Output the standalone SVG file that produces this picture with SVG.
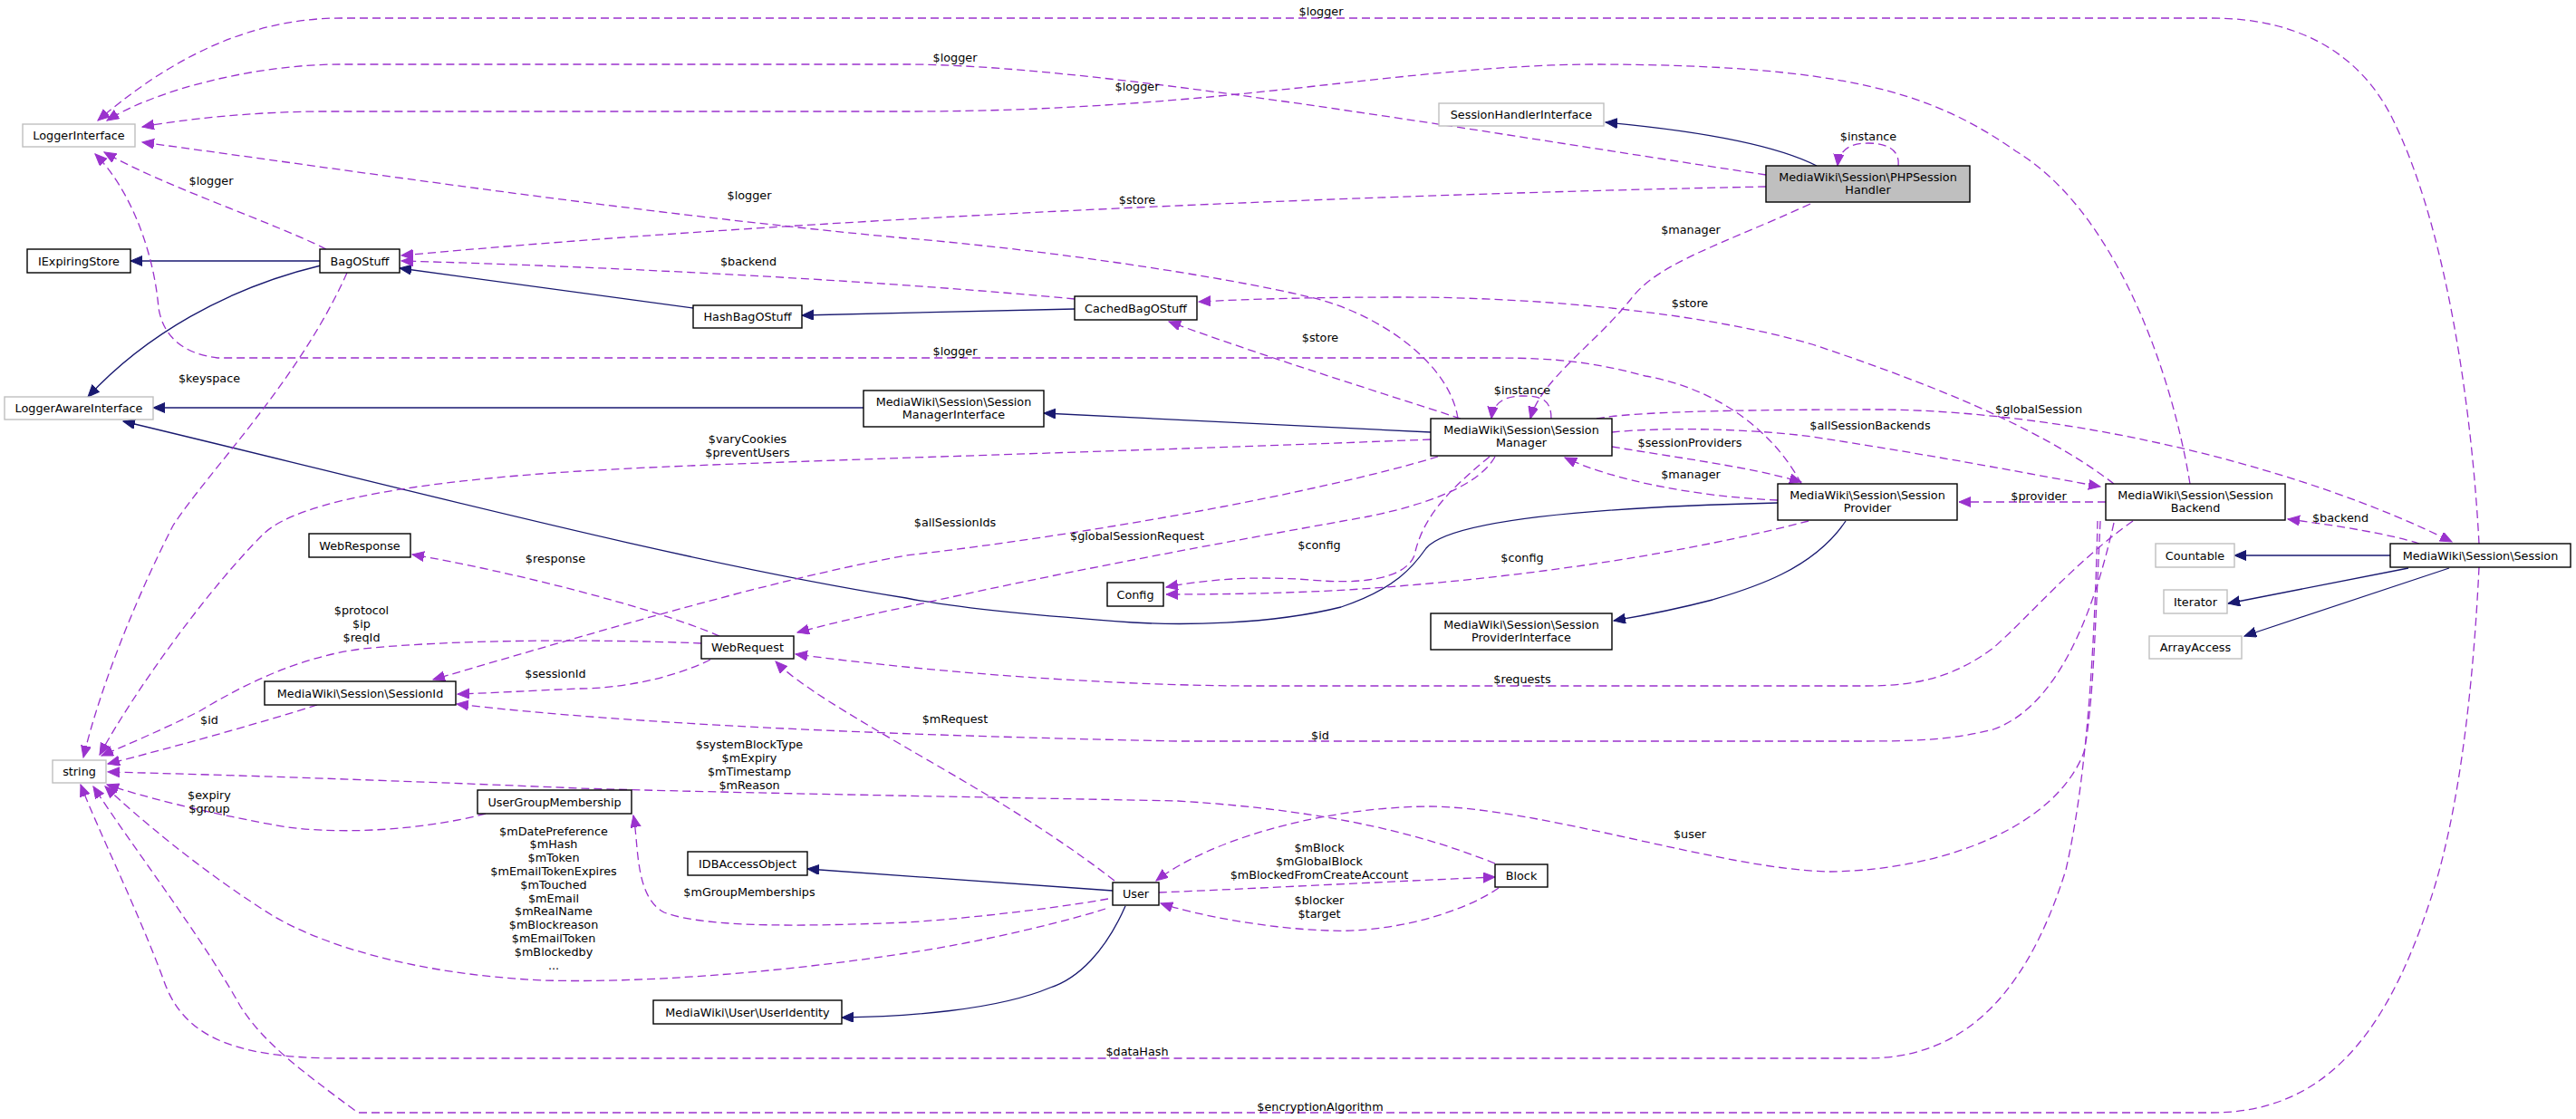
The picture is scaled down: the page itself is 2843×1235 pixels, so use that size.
<svg xmlns="http://www.w3.org/2000/svg" width="2843" height="1235" viewBox="0 0 2843 1235">
<style>
text{font-family:"DejaVu Sans","Liberation Sans",sans-serif;font-size:12.8px;fill:#000}
.n rect{fill:#fff;stroke:#000;stroke-width:1.4}
.n.g rect{stroke:#bfbfbf}
.n.cur rect{fill:#bfbfbf}
.n text,.lbl text{text-anchor:middle}
.u{fill:none;stroke:#9a32cd;stroke-width:1.3;stroke-dasharray:9,5;marker-end:url(#pa)}
.i{fill:none;stroke:#191970;stroke-width:1.3;marker-end:url(#ba)}
</style>
<defs>
<marker id="pa" markerUnits="userSpaceOnUse" markerWidth="14" markerHeight="12" refX="13" refY="5.5" orient="auto"><path d="M0,0 L13,5.5 L0,11 z" fill="#9a32cd" stroke="#9a32cd"/></marker>
<marker id="ba" markerUnits="userSpaceOnUse" markerWidth="14" markerHeight="12" refX="13" refY="5.5" orient="auto"><path d="M0,0 L13,5.5 L0,11 z" fill="#191970" stroke="#191970"/></marker>
</defs>
<rect width="2843" height="1235" fill="#fff"/>
<g id="edges">
<path class="i" d="M2005,183 C1960,160 1880,145 1772,135"/>
<path class="i" d="M353,288 L144,288"/>
<path class="i" d="M354,293 C250,318 160,370 97,438"/>
<path class="i" d="M765,340 L441,296"/>
<path class="i" d="M1186,341 L885,348"/>
<path class="i" d="M1579,477 L1152,456"/>
<path class="i" d="M953,450 L169,450"/>
<path class="i" d="M1962,555 C1750,560 1600,575 1574,605 C1560,625 1540,650 1480,670 C1400,690 1300,690 1250,687 C1150,680 1050,670 1000,660 C750,620 450,540 136,465"/>
<path class="i" d="M2037,575 C2000,630 1930,650 1890,662 C1840,675 1810,680 1781,685"/>
<path class="i" d="M2638,613 L2466,613"/>
<path class="i" d="M2658,627 L2459,666"/>
<path class="i" d="M2703,627 L2477,702"/>
<path class="i" d="M1228,983 L891,959"/>
<path class="i" d="M1242,1000 C1220,1050 1190,1080 1159,1090 C1100,1115 1000,1122 929,1123"/>

<path class="u" d="M2736,600 C2728,450 2700,250 2640,130 C2610,70 2550,20 2441,20 L376,20 C260,20 170,80 108,133"/>
<path class="u" d="M1949,193 C1600,140 1200,71 1000,71 L376,71 C280,71 170,100 118,133"/>
<path class="u" d="M2417,534 C2395,400 2330,230 2225,167 C2130,100 2030,72 1765,71 C1550,71 1350,123 1000,123 L357,123 C280,123 200,132 157,140"/>
<path class="u" d="M1609,462 C1600,400 1520,345 1446,328 C1350,305 1150,275 1000,263 C700,235 400,190 157,157"/>
<path class="u" d="M360,275 C300,245 180,205 115,168"/>
<path class="u" d="M1988,534 C1960,480 1900,430 1816,415 C1760,400 1720,395 1650,395 L240,395 C200,390 180,370 175,340 C170,280 145,210 105,170"/>
<path class="u" d="M1949,206 C1500,215 900,240 443,282"/>
<path class="u" d="M1186,330 C1000,312 700,295 443,288"/>
<path class="u" d="M2333,534 C2250,470 2120,420 2000,380 C1880,345 1700,328 1550,328 C1450,328 1380,330 1323,333"/>
<path class="u" d="M1612,462 C1520,432 1400,395 1290,355"/>
<path class="u" d="M1998,225 C1900,270 1830,290 1800,330 C1760,380 1700,420 1689,462"/>
<path class="u" d="M1712,462 C1712,440 1700,437 1680,437 C1660,437 1648,445 1646,462"/>
<path class="u" d="M2095,183 C2097,165 2082,158 2062,158 C2042,158 2030,165 2028,183"/>
<path class="u" d="M1579,485 C1200,500 800,510 640,520 C480,530 330,550 290,590 C230,650 150,760 110,833"/>
<path class="u" d="M1587,504 C1450,545 1200,590 1000,613 C850,640 650,700 478,750"/>
<path class="u" d="M1650,504 C1630,540 1560,560 1510,570 C1400,590 1200,625 1000,670 C950,680 910,690 880,698"/>
<path class="u" d="M1644,504 C1600,540 1570,570 1561,613 C1550,640 1500,645 1446,640 C1380,635 1330,640 1287,648"/>
<path class="u" d="M1996,575 C1900,600 1750,630 1542,647 C1450,655 1350,656 1287,656"/>
<path class="u" d="M1962,552 C1870,548 1780,530 1727,505"/>
<path class="u" d="M1779,493 C1850,505 1930,515 1988,532"/>
<path class="u" d="M1779,477 C1850,470 1950,475 2000,482 C2150,505 2250,525 2318,537"/>
<path class="u" d="M1762,462 C1800,455 1900,452 2080,452 C2300,455 2550,520 2706,598"/>
<path class="u" d="M2324,554 L2162,554"/>
<path class="u" d="M2670,600 C2640,590 2580,580 2525,573"/>
<path class="u" d="M2354,575 C2290,620 2240,680 2200,715 C2160,745 2120,757 2060,757 L1383,757 C1250,757 1050,745 878,722"/>
<path class="u" d="M2333,577 C2310,680 2270,780 2200,805 C2150,818 2100,818 2050,818 L1300,818 C1000,812 700,800 504,777"/>
<path class="u" d="M2318,575 C2312,700 2310,780 2300,830 C2270,910 2150,960 2020,962 C1900,960 1700,890 1574,890 C1450,892 1330,930 1276,972"/>
<path class="u" d="M2315,575 C2312,700 2305,850 2280,960 C2230,1120 2150,1168 2060,1168 L376,1168 C250,1168 200,1140 180,1080 C150,1000 110,920 89,866"/>
<path class="u" d="M2736,626 C2730,750 2715,900 2680,1000 C2630,1150 2560,1228 2441,1228 L395,1228 C330,1180 290,1150 265,1110 C220,1030 150,940 103,868"/>
<path class="u" d="M784,728 C740,750 680,760 640,760 C590,762 540,765 505,766"/>
<path class="u" d="M794,702 C720,670 560,630 455,612"/>
<path class="u" d="M774,710 C650,705 500,706 400,716 C330,725 270,755 220,785 C180,805 140,822 112,834"/>
<path class="u" d="M350,778 C280,800 190,825 119,843"/>
<path class="u" d="M383,301 C330,420 230,520 191,580 C150,660 110,760 92,836"/>
<path class="u" d="M536,898 C460,918 360,922 300,910 C220,895 160,880 118,866"/>
<path class="u" d="M1650,953 C1580,925 1480,895 1300,884 C1100,880 800,875 640,870 C450,862 250,855 119,852"/>
<path class="u" d="M1220,1003 C1150,1025 1050,1045 1000,1052 C850,1075 700,1085 600,1082 C450,1075 350,1040 300,1010 C220,960 150,900 116,868"/>
<path class="u" d="M1223,992 C1150,1005 1050,1015 1000,1018 C900,1022 780,1025 733,1007 C700,990 705,930 699,900"/>
<path class="u" d="M1230,972 C1150,910 1060,860 1000,825 C940,790 880,755 856,730"/>
<path class="u" d="M1279,985 C1400,980 1550,972 1650,968"/>
<path class="u" d="M1654,980 C1610,1010 1530,1030 1466,1027 C1400,1025 1320,1010 1281,997"/>
</g>
<g class="lbl">
<text x="1458" y="16.5">$logger</text>
<text x="1054" y="67.5">$logger</text>
<text x="1255" y="99.5">$logger</text>
<text x="233" y="203.5">$logger</text>
<text x="827" y="219.5">$logger</text>
<text x="1054" y="391.5">$logger</text>
<text x="1255" y="224.5">$store</text>
<text x="1865" y="338.5">$store</text>
<text x="1457" y="376.5">$store</text>
<text x="1866" y="257.5">$manager</text>
<text x="1866" y="527.5">$manager</text>
<text x="2062" y="154.5">$instance</text>
<text x="1680" y="434.5">$instance</text>
<text x="826" y="292.5">$backend</text>
<text x="231" y="421.5">$keyspace</text>
<text x="825" y="488.5">$varyCookies<tspan x="825" dy="15">$preventUsers</tspan></text>
<text x="1865" y="492.5">$sessionProviders</text>
<text x="1054" y="580.5">$allSessionIds</text>
<text x="1255" y="595.5">$globalSessionRequest</text>
<text x="1456" y="605.5">$config</text>
<text x="1680" y="619.5">$config</text>
<text x="1680" y="753.5">$requests</text>
<text x="1054" y="797.5">$mRequest</text>
<text x="1457" y="815.5">$id</text>
<text x="231" y="798.5">$id</text>
<text x="613" y="620.5">$response</text>
<text x="399" y="677.5">$protocol<tspan x="399" dy="15">$ip</tspan><tspan x="399" dy="15">$reqId</tspan></text>
<text x="613" y="747.5">$sessionId</text>
<text x="2250" y="455.5">$globalSession</text>
<text x="2064" y="473.5">$allSessionBackends</text>
<text x="2250" y="551.5">$provider</text>
<text x="2583" y="575.5">$backend</text>
<text x="827" y="825.5">$systemBlockType<tspan x="827" dy="15">$mExpiry</tspan><tspan x="827" dy="15">$mTimestamp</tspan><tspan x="827" dy="15">$mReason</tspan></text>
<text x="231" y="881.5">$expiry<tspan x="231" dy="15">$group</tspan></text>
<text x="611" y="921.5">$mDatePreference<tspan x="611" dy="14.8">$mHash</tspan><tspan x="611" dy="14.8">$mToken</tspan><tspan x="611" dy="14.8">$mEmailTokenExpires</tspan><tspan x="611" dy="14.8">$mTouched</tspan><tspan x="611" dy="14.8">$mEmail</tspan><tspan x="611" dy="14.8">$mRealName</tspan><tspan x="611" dy="14.8">$mBlockreason</tspan><tspan x="611" dy="14.8">$mEmailToken</tspan><tspan x="611" dy="14.8">$mBlockedby</tspan><tspan x="611" dy="14.8">...</tspan></text>
<text x="827" y="988.5">$mGroupMemberships</text>
<text x="1456" y="939.5">$mBlock<tspan x="1456" dy="15">$mGlobalBlock</tspan><tspan x="1456" dy="15">$mBlockedFromCreateAccount</tspan></text>
<text x="1456" y="997.5">$blocker<tspan x="1456" dy="15">$target</tspan></text>
<text x="1865" y="924.5">$user</text>
<text x="1255" y="1164.5">$dataHash</text>
<text x="1457" y="1225.5">$encryptionAlgorithm</text>
</g>
<g id="LoggerInterface" class="n g"><rect x="25" y="137" width="124" height="25"/><text x="87" y="154">LoggerInterface</text></g>
<g id="SessionHandlerInterface" class="n g"><rect x="1588" y="114" width="182" height="25"/><text x="1679" y="131">SessionHandlerInterface</text></g>
<g id="PHPSessionHandler" class="n cur"><rect x="1949" y="183" width="225" height="40"/><text x="2061.5" y="199.5">MediaWiki\Session\PHPSession</text><text x="2061.5" y="213.5">Handler</text></g>
<g id="IExpiringStore" class="n"><rect x="30" y="275" width="114" height="26"/><text x="87" y="292.5">IExpiringStore</text></g>
<g id="BagOStuff" class="n"><rect x="353" y="275" width="88" height="26"/><text x="397" y="292.5">BagOStuff</text></g>
<g id="HashBagOStuff" class="n"><rect x="765" y="337" width="120" height="25"/><text x="825" y="354">HashBagOStuff</text></g>
<g id="CachedBagOStuff" class="n"><rect x="1186" y="327" width="135" height="26"/><text x="1253.5" y="344.5">CachedBagOStuff</text></g>
<g id="LoggerAwareInterface" class="n g"><rect x="5" y="438" width="164" height="25"/><text x="87" y="455">LoggerAwareInterface</text></g>
<g id="SessionManagerInterface" class="n"><rect x="953" y="431" width="199" height="40"/><text x="1052.5" y="447.5">MediaWiki\Session\Session</text><text x="1052.5" y="461.5">ManagerInterface</text></g>
<g id="SessionManager" class="n"><rect x="1579" y="462" width="200" height="41"/><text x="1679" y="479">MediaWiki\Session\Session</text><text x="1679" y="493">Manager</text></g>
<g id="SessionProvider" class="n"><rect x="1962" y="534" width="198" height="40"/><text x="2061" y="550.5">MediaWiki\Session\Session</text><text x="2061" y="564.5">Provider</text></g>
<g id="SessionBackend" class="n"><rect x="2324" y="534" width="198" height="40"/><text x="2423" y="550.5">MediaWiki\Session\Session</text><text x="2423" y="564.5">Backend</text></g>
<g id="Session" class="n"><rect x="2638" y="600" width="199" height="26"/><text x="2737.5" y="617.5">MediaWiki\Session\Session</text></g>
<g id="Countable" class="n g"><rect x="2379" y="600" width="87" height="26"/><text x="2422.5" y="617.5">Countable</text></g>
<g id="Iterator" class="n g"><rect x="2388" y="651" width="70" height="26"/><text x="2423" y="668.5">Iterator</text></g>
<g id="ArrayAccess" class="n g"><rect x="2372" y="702" width="102" height="25"/><text x="2423" y="719">ArrayAccess</text></g>
<g id="WebResponse" class="n"><rect x="341" y="589" width="112" height="26"/><text x="397" y="606.5">WebResponse</text></g>
<g id="Config" class="n"><rect x="1222" y="643" width="62" height="26"/><text x="1253" y="660.5">Config</text></g>
<g id="SessionProviderInterface" class="n"><rect x="1579" y="677" width="200" height="40"/><text x="1679" y="693.5">MediaWiki\Session\Session</text><text x="1679" y="707.5">ProviderInterface</text></g>
<g id="WebRequest" class="n"><rect x="774" y="702" width="102" height="25"/><text x="825" y="719">WebRequest</text></g>
<g id="SessionId" class="n"><rect x="292" y="752" width="211" height="26"/><text x="397.5" y="769.5">MediaWiki\Session\SessionId</text></g>
<g id="string" class="n g"><rect x="58" y="839" width="59" height="25"/><text x="87.5" y="856">string</text></g>
<g id="UserGroupMembership" class="n"><rect x="527" y="872" width="170" height="26"/><text x="612" y="889.5">UserGroupMembership</text></g>
<g id="IDBAccessObject" class="n"><rect x="759" y="940" width="132" height="26"/><text x="825" y="957.5">IDBAccessObject</text></g>
<g id="User" class="n"><rect x="1228" y="974" width="51" height="25"/><text x="1253.5" y="991">User</text></g>
<g id="Block" class="n"><rect x="1650" y="954" width="58" height="25"/><text x="1679" y="971">Block</text></g>
<g id="UserIdentity" class="n"><rect x="721" y="1104" width="208" height="26"/><text x="825" y="1121.5">MediaWiki\User\UserIdentity</text></g>
</svg>
